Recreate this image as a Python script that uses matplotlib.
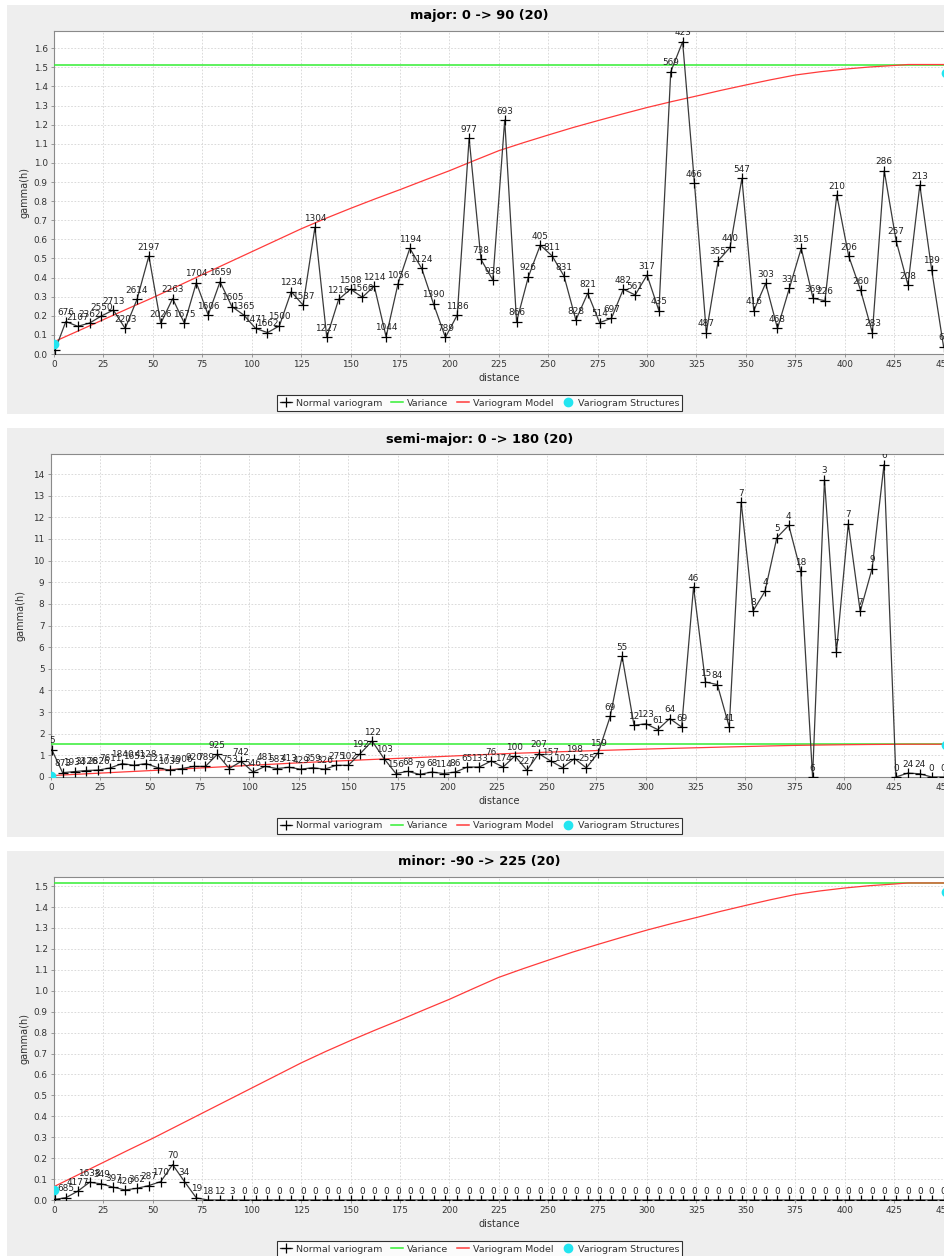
import matplotlib
matplotlib.use("Agg")
import matplotlib.pyplot as plt
from matplotlib.patches import Rectangle
from matplotlib.lines import Line2D

W, H = 944, 1256

# lag distances (same bins for every direction)
lag = [0.5, 6, 12, 18, 24, 30, 36, 42, 48, 54, 60, 66, 72, 78, 84, 90, 96, 102,
       108, 114, 120, 126, 132, 138, 144, 150, 156, 162, 168, 174, 180, 186, 192,
       198, 204, 210, 216, 222, 228, 234, 240, 246, 252, 258, 264, 270, 276, 282,
       288, 294, 300, 306, 312, 318, 324, 330, 336, 342, 348, 354, 360, 366, 372,
       378, 384, 390, 396, 402, 408, 414, 420, 426, 432, 438, 444, 450]

major_gamma = [0.02, 0.17, 0.145, 0.162, 0.199, 0.23, 0.134, 0.286, 0.513, 0.16,
               0.29, 0.16, 0.373, 0.204, 0.378, 0.248, 0.204, 0.134, 0.112, 0.147,
               0.326, 0.256, 0.663, 0.087, 0.286, 0.339, 0.297, 0.356, 0.09, 0.366,
               0.553, 0.448, 0.262, 0.087, 0.204, 1.129, 0.495, 0.387, 1.224, 0.169,
               0.405, 0.570, 0.513, 0.408, 0.178, 0.318, 0.164, 0.187, 0.339, 0.309,
               0.413, 0.227, 1.477, 1.634, 0.893, 0.111, 0.488, 0.558, 0.919, 0.227,
               0.370, 0.134, 0.344, 0.553, 0.291, 0.279, 0.832, 0.513, 0.335, 0.111,
               0.959, 0.593, 0.361, 0.884, 0.440, 0.038]
major_pairs = ["", "676", "2107", "2362", "2550", "2713", "2203", "2614", "2197",
               "2026", "2263", "1675", "1704", "1606", "1659", "1605", "1365", "1471",
               "1662", "1500", "1234", "1537", "1304", "1227", "1216", "1508", "1560",
               "1214", "1044", "1056", "1194", "1124", "1390", "789", "1186", "977",
               "738", "938", "693", "866", "926", "405", "811", "831", "828", "821",
               "514", "697", "482", "561", "317", "435", "569", "423", "466", "487",
               "355", "440", "547", "416", "303", "468", "331", "315", "369", "226",
               "210", "206", "260", "283", "286", "257", "208", "213", "139", "66"]

semi_gamma = [1.27, 0.20, 0.25, 0.30, 0.32, 0.42, 0.62, 0.54, 0.62, 0.43, 0.31,
              0.39, 0.49, 0.49, 1.05, 0.39, 0.72, 0.23, 0.49, 0.39, 0.45, 0.36,
              0.43, 0.36, 0.54, 0.54, 1.08, 1.66, 0.85, 0.16, 0.26, 0.12, 0.23,
              0.16, 0.23, 0.46, 0.46, 0.74, 0.46, 0.97, 0.31, 1.08, 0.74, 0.43,
              0.85, 0.42, 1.13, 2.80, 5.57, 2.39, 2.46, 2.19, 2.70, 2.31, 8.78,
              4.39, 4.27, 2.31, 12.70, 7.67, 8.58, 11.06, 11.63, 9.52, 0.0, 13.74,
              5.77, 11.70, 7.65, 9.63, 14.44, 0.0, 0.18, 0.15, 0.0, 0.0]
semi_pairs = ["5", "873", "1934", "3326", "2826", "7611", "1840", "1653", "4128",
              "1217", "1039", "1906", "920", "789", "925", "753", "742", "546",
              "481", "583", "413", "429", "359", "326", "275", "102", "192", "122",
              "103", "156", "68", "79", "68", "114", "86", "65", "133", "76", "174",
              "100", "227", "207", "157", "102", "198", "255", "159", "69", "55",
              "12", "123", "61", "64", "69", "46", "15", "84", "41", "7", "8", "4",
              "5", "4", "18", "6", "3", "7", "7", "7", "9", "6", "0", "24", "24",
              "0", "0"]

minor_gamma = [0.003, 0.011, 0.042, 0.085, 0.077, 0.061, 0.048, 0.056, 0.069,
               0.088, 0.169, 0.088, 0.01, 0.0, 0.0, 0.0, 0.0, 0.0, 0.0, 0.0, 0.0,
               0.0, 0.0, 0.0, 0.0, 0.0, 0.0, 0.0, 0.0, 0.0, 0.0, 0.0, 0.0, 0.0,
               0.0, 0.0, 0.0, 0.0, 0.0, 0.0, 0.0, 0.0, 0.0, 0.0, 0.0, 0.0, 0.0,
               0.0, 0.0, 0.0, 0.0, 0.0, 0.0, 0.0, 0.0, 0.0, 0.0, 0.0, 0.0, 0.0,
               0.0, 0.0, 0.0, 0.0, 0.0, 0.0, 0.0, 0.0, 0.0, 0.0, 0.0, 0.0, 0.0,
               0.0, 0.0, 0.0]
minor_pairs = ["1", "685", "4177", "1638", "349", "397", "420", "362", "287",
               "170", "70", "34", "19", "18", "12", "3"] + ["0"] * 60

variance = 1.515
model_h = [0, 12.5, 25, 37.5, 50, 62.5, 75, 87.5, 100, 112.5, 125, 137.5, 150,
           162.5, 175, 187.5, 200, 212.5, 225, 237.5, 250, 262.5, 275, 287.5,
           300, 312.5, 325, 337.5, 350, 362.5, 375, 387.5, 400, 412.5, 425, 432,
           452]
model_g = [0.064, 0.122, 0.18, 0.238, 0.295, 0.355, 0.415, 0.475, 0.535, 0.595,
           0.655, 0.71, 0.762, 0.812, 0.86, 0.91, 0.959, 1.012, 1.064, 1.106,
           1.146, 1.185, 1.221, 1.256, 1.29, 1.321, 1.35, 1.38, 1.408, 1.435,
           1.46, 1.477, 1.491, 1.502, 1.51, 1.515, 1.515]
struct_h = [0, 451]
struct_g = [0.05, 1.47]

panels = [
    dict(title="major: 0 -> 90 (20)", gamma=major_gamma, pairs=major_pairs,
         off=0, left=54, ymax=1.692, yticks=[i / 10 for i in range(17)],
         fmt="{:.1f}", ylab_x=25),
    dict(title="semi-major: 0 -> 180 (20)", gamma=semi_gamma, pairs=semi_pairs,
         off=423, left=50.7, ymax=14.94, yticks=list(range(15)),
         fmt="{:d}", ylab_x=21),
    dict(title="minor: -90 -> 225 (20)", gamma=minor_gamma, pairs=minor_pairs,
         off=846, left=54, ymax=1.545, yticks=[i / 10 for i in range(16)],
         fmt="{:.1f}", ylab_x=25),
]

GREEN = "#33ee33"
RED = "#ff3b3b"
CYAN = "#22e5f0"
GRAY_BG = "#eeeeee"
AXIS = "#8a8a8a"
TXT = "#333333"

fig = plt.figure(figsize=(W / 100, H / 100), dpi=100)
fig.patch.set_facecolor("white")


def fx(px):
    return px / W


def fy(py):
    return 1 - py / H


for p in panels:
    off = p["off"]
    fig.patches.append(Rectangle((fx(7), fy(414 + off)), fx(960) - fx(7),
                                 409 / H, transform=fig.transFigure,
                                 facecolor=GRAY_BG, edgecolor="none", zorder=-10))

    top, bottom, right = 30.7 + off, 354 + off, 947.5
    ax = fig.add_axes([fx(p["left"]), fy(bottom), (right - p["left"]) / W,
                       (bottom - top) / H])
    ax.set_facecolor("white")
    ax.set_xlim(0, 452)
    ax.set_ylim(0, p["ymax"])

    ax.set_xticks(list(range(0, 451, 25)))
    ax.set_yticks(p["yticks"])
    ax.set_yticklabels([p["fmt"].format(v) for v in p["yticks"]])
    ax.tick_params(length=2, width=0.6, color=AXIS, labelsize=6.4,
                   labelcolor=TXT, pad=2.5)
    ax.grid(True, color="#d4d4d4", linestyle=(0, (2, 2)), linewidth=0.6)
    ax.set_axisbelow(True)
    for s in ax.spines.values():
        s.set_color(AXIS)
        s.set_linewidth(0.8)

    ax.axhline(variance, color=GREEN, lw=1.1, zorder=3)
    ax.plot(model_h, model_g, color=RED, lw=0.9, zorder=4)
    ax.plot(lag, p["gamma"], color="#3a3a3a", lw=0.9, marker="+", ms=6.8,
            mew=0.9, mec="black", zorder=5)
    for x, g, lbl in zip(lag, p["gamma"], p["pairs"]):
        if lbl:
            ax.annotate(lbl, (x, g), xytext=(0, 3.2), textcoords="offset points",
                        ha="center", va="bottom", fontsize=6.4, color="#222222",
                        annotation_clip=True, clip_on=True, zorder=6)
    ax.plot(struct_h, struct_g, ls="", marker="o", ms=6, color=CYAN,
            mec=CYAN, zorder=7)

    fig.text(fx(479.5), fy(16 + off), p["title"], ha="center", va="center",
             fontsize=9.4, fontweight="bold", color="black")
    fig.text(fx(499), fy(378 + off), "distance", ha="center", va="center",
             fontsize=7, color=TXT)
    fig.text(fx(p["ylab_x"]), fy((top + bottom) / 2), "gamma(h)", ha="center",
             va="center", rotation=90, fontsize=7, color=TXT)

    handles = [
        Line2D([], [], color="#3a3a3a", lw=0.9, marker="+", ms=7, mew=0.9,
               mec="black"),
        Line2D([], [], color=GREEN, lw=1.1),
        Line2D([], [], color=RED, lw=1.1),
        Line2D([], [], ls="", marker="o", ms=6, color=CYAN),
    ]
    leg = fig.legend(handles, ["Normal variogram", "Variance", "Variogram Model",
                               "Variogram Structures"],
                     loc="center", bbox_to_anchor=(fx(479.5), fy(403 + off)),
                     ncol=4, frameon=True, fancybox=False, edgecolor="black",
                     fontsize=6.8, handlelength=1.3, handletextpad=0.4,
                     columnspacing=0.9, borderpad=0.35, borderaxespad=0)
    leg.get_frame().set_linewidth(0.8)
    for t in leg.get_texts():
        t.set_color(TXT)

fig.savefig("out.png", dpi=100, facecolor="white")
